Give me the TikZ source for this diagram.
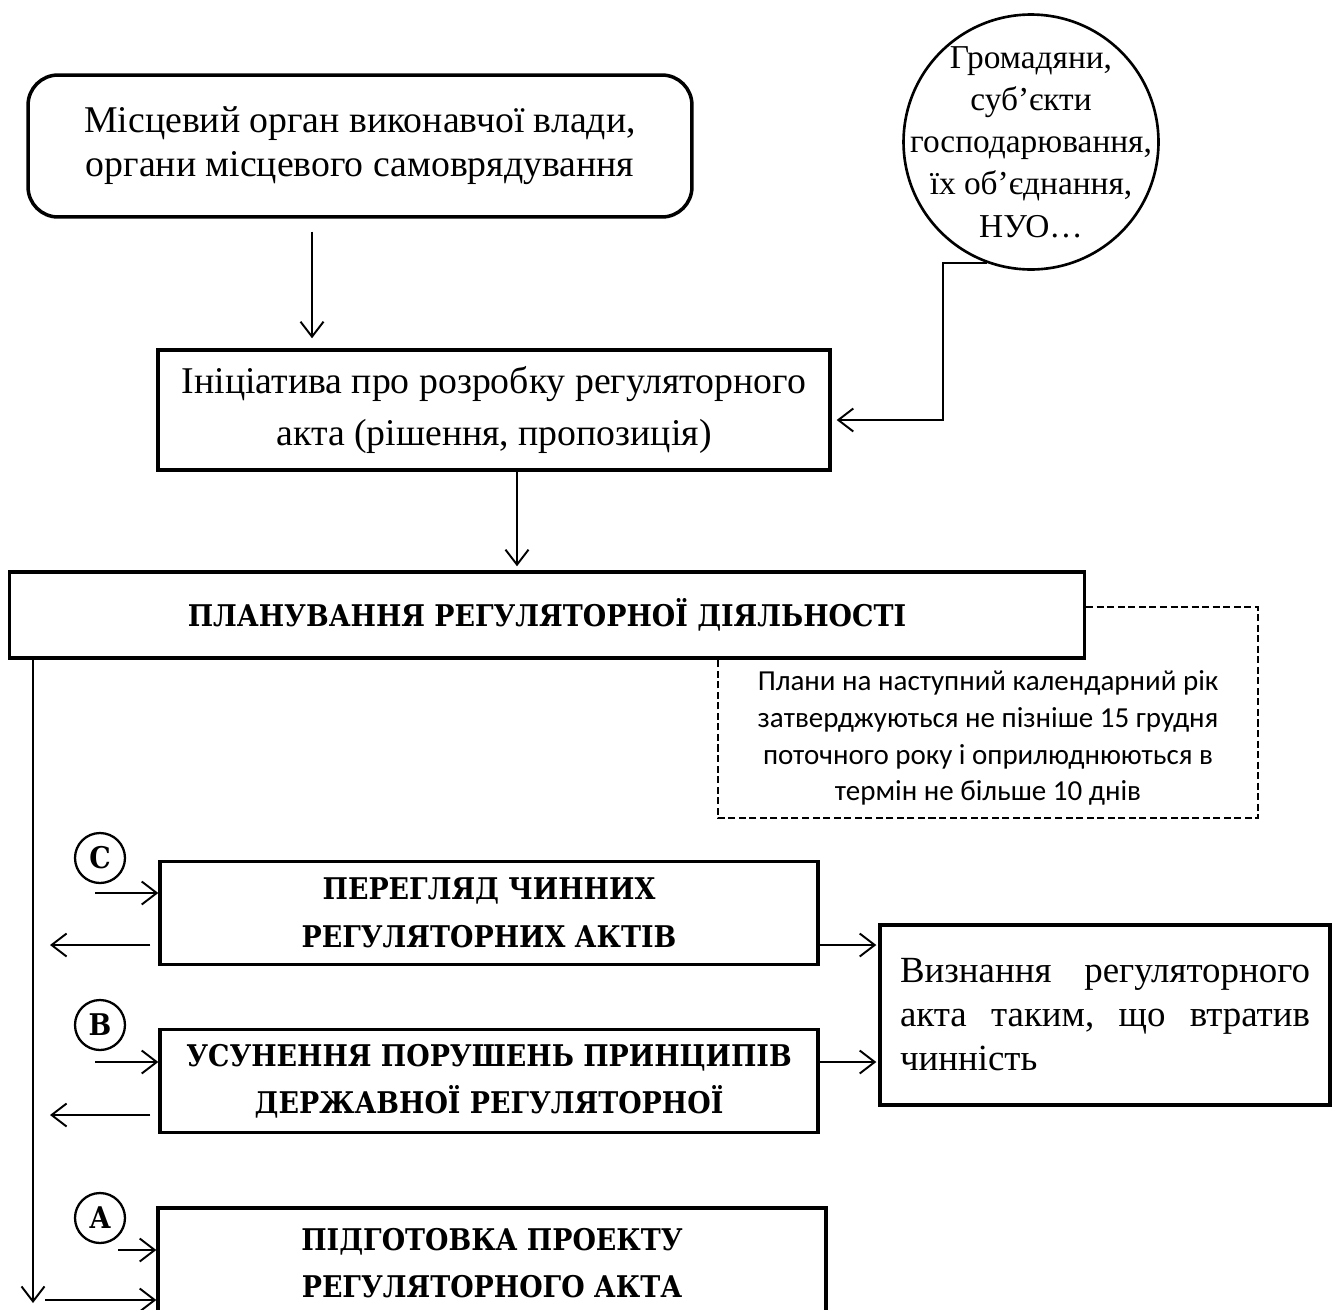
\documentclass[tikz,border=0pt]{standalone}
\usepackage{fontspec}
\setmainfont{Liberation Serif}
\newfontfamily\capsfont{DejaVu Serif Condensed Bold}
\newfontfamily\notefont{Carlito}
\usetikzlibrary{arrows.meta,positioning}
\tikzset{
  box/.style={draw, line width=2pt, align=center, inner sep=0pt,
    font=\fontsize{21.5}{35}\selectfont},
  capsbox/.style={draw, line width=2pt, align=center, inner sep=0pt,
    font=\capsfont\fontsize{17}{27}\selectfont},
  letter/.style={draw, circle, line width=1.3pt, minimum size=1cm,
    inner sep=0pt, font=\capsfont\fontsize{17}{17}\selectfont},
  conn/.style={line width=1.1pt},
  notedash/.style={line width=1.1pt, dash pattern=on 4pt off 2pt},
}
\begin{document}
\begin{tikzpicture}[x=0.02cm, y=-0.02cm, >={Straight Barb[length=3mm,width=4.6mm]}]
    \useasboundingbox (0,0) rectangle (1341,1309);
    \clip (0,0) rectangle (1341,1309);
    % top part
    \node[box, rounded corners=0.6cm, minimum width=13.28cm, minimum height=2.84cm,
        font=\fontsize{21.5}{25}\selectfont]
        (org) at (360,146) {Місцевий орган виконавчої влади,\\органи місцевого самоврядування};
    \node[draw, circle, line width=1.5pt, minimum size=5.1cm, inner sep=-1.2cm, align=center,
        font=\fontsize{19}{24}\selectfont]
        (citizens) at (1031,142) {Громадяни,\\суб’єкти\\господарювання,\\їх об’єднання,\\НУО…};
    \node[box, minimum width=13.44cm, minimum height=2.4cm, font=\fontsize{21.5}{30}\selectfont]
        (init) at (494,410) {Ініціатива про розробку регуляторного\\акта (рішення, пропозиція)};
    \node[capsbox, minimum width=21.5cm, minimum height=1.72cm]
        (plan) at (547,615) {ПЛАНУВАННЯ РЕГУЛЯТОРНОЇ ДІЯЛЬНОСТІ};
    \node[minimum width=10.8cm, minimum height=3.2cm, align=center,
        font=\notefont\fontsize{16.5}{21}\selectfont]
        (note) at (988,738) {Плани на наступний календарний рік\\затверджуються не пізніше 15 грудня\\поточного року і оприлюднюються в\\термін не більше 10 днів};
    % stages
    \node[letter] (lc) at (100,858) {C};
    \node[capsbox, minimum width=13.16cm, minimum height=2.06cm]
        (review) at (489,913) {ПЕРЕГЛЯД ЧИННИХ\\РЕГУЛЯТОРНИХ АКТІВ};
    \node[letter] (lb) at (100,1025) {B};
    \node[capsbox, minimum width=13.16cm, minimum height=2.06cm]
        (elim) at (489,1081) {УСУНЕННЯ ПОРУШЕНЬ ПРИНЦИПІВ\\ДЕРЖАВНОЇ РЕГУЛЯТОРНОЇ};
    \node[letter] (la) at (100,1218) {A};
    \node[capsbox, minimum width=13.36cm, minimum height=2.2cm]
        (draft) at (492,1263) {ПІДГОТОВКА ПРОЕКТУ\\РЕГУЛЯТОРНОГО АКТА};
    \node[draw, line width=2pt, minimum width=9cm, minimum height=3.6cm, inner sep=0pt,
        text width=8.2cm, align=left, font=\fontsize{21}{25}\selectfont]
        (cancel) at (1105,1015) {Визнання\hfill регуляторного\\акта\hfill таким,\hfill що\hfill втратив\\чинність};
    % connectors
    \coordinate (bend) at (943,420);
    \coordinate (spine) at (33,1303);
    \coordinate (cin) at (95,893);
    \coordinate (cout) at (50,945);
    \coordinate (bin) at (95,1062);
    \coordinate (bout) at (50,1115);
    \coordinate (ain) at (118,1250);
    \coordinate (ain2) at (45,1300);
    \draw[conn,->] ([xshift=-0.96cm,yshift=-0.26cm]org.south) coordinate (o1) -- ([yshift=0.2cm]o1 |- init.north);
    \draw[conn,->,shorten >=0.1cm] (citizens.250) -| (bend) -- (init.east |- bend);
    \draw[conn,->] ([xshift=0.46cm]init.south) coordinate (i1) -- ([yshift=0.08cm]i1 |- plan.north);
    \draw[notedash] ([yshift=0.16cm]plan.east) -| (note.south east) -- (note.south west) -- (note.south west |- plan.south);
    \draw[conn,->] (spine |- plan.south) -- (spine);
    \draw[conn,->] (cin) -- (cin -| review.west);
    \draw[conn,->,shorten <=0.16cm] (cout -| review.west) -- (cout);
    \draw[conn,->,shorten >=0.04cm] (review.east |- cout) -- (cancel.west |- cout);
    \draw[conn,->] (bin) -- (bin -| elim.west);
    \draw[conn,->,shorten <=0.16cm] (bout -| elim.west) -- (bout);
    \draw[conn,->,shorten >=0.04cm] (elim.east |- bin) -- (cancel.west |- bin);
    \draw[conn,->] (ain) -- (ain -| draft.west);
    \draw[conn,->] (ain2) -- (ain2 -| draft.west);
\end{tikzpicture}
\end{document}
